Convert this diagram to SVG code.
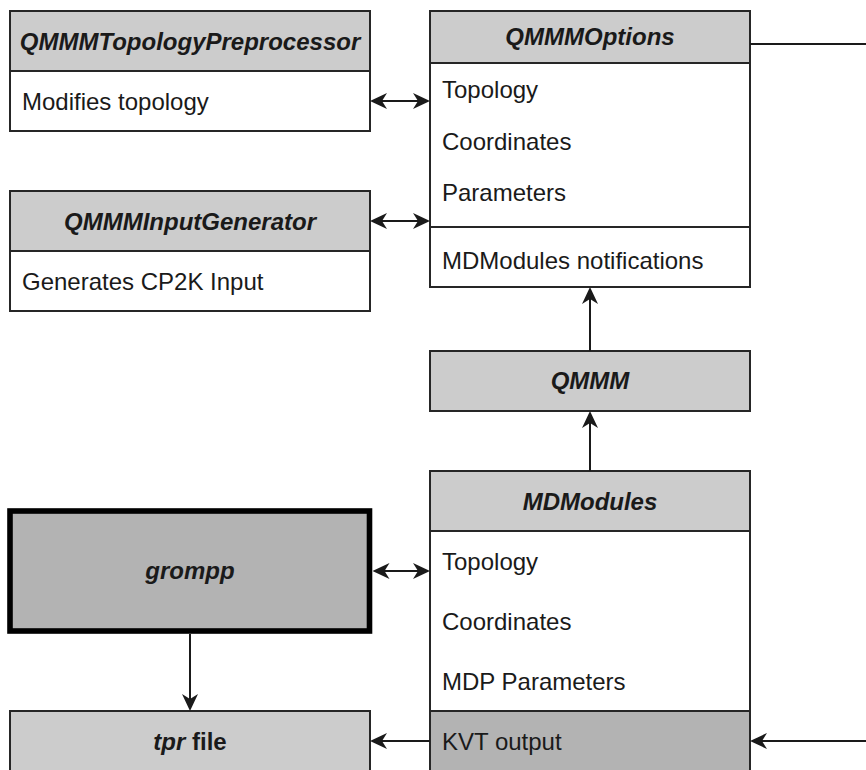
<svg xmlns="http://www.w3.org/2000/svg" width="866" height="770" viewBox="0 0 866 770">
  <style>
    text { font-family: "Liberation Sans", Arial, Helvetica, sans-serif; font-size: 24px; fill: #1a1a1a; }
    .title { font-weight: bold; font-style: italic; text-anchor: middle; }
    .head { fill: #cccccc; stroke: #262626; stroke-width: 2; }
    .body { fill: #ffffff; stroke: #262626; stroke-width: 2; }
    .dark { fill: #b3b3b3; stroke: #262626; stroke-width: 2; }
    .edge { fill: none; stroke: #1a1a1a; stroke-width: 2; }
  </style>
  <defs>
    <marker id="arrow" markerUnits="userSpaceOnUse" viewBox="0 0 17 16" markerWidth="17" markerHeight="16" refX="7" refY="8" orient="auto-start-reverse">
      <path d="M0,0 L17,8 L0,16 L5,8 Z" fill="#1a1a1a"/>
    </marker>
  </defs>

  <rect width="866" height="770" fill="#ffffff"/>

  <g id="topology-preprocessor">
    <rect class="head" x="10" y="11" width="360" height="60"/>
    <rect class="body" x="10" y="71" width="360" height="60"/>
    <text class="title" x="190" y="49.5">QMMMTopologyPreprocessor</text>
    <text x="22" y="110">Modifies topology</text>
  </g>

  <g id="input-generator">
    <rect class="head" x="10" y="191" width="360" height="60"/>
    <rect class="body" x="10" y="251" width="360" height="60"/>
    <text class="title" x="190" y="229.5">QMMMInputGenerator</text>
    <text x="22" y="290">Generates CP2K Input</text>
  </g>

  <g id="qmmm-options">
    <rect class="head" x="430" y="11" width="320" height="52"/>
    <rect class="body" x="430" y="63" width="320" height="164"/>
    <rect class="body" x="430" y="227" width="320" height="60"/>
    <text class="title" x="590" y="45">QMMMOptions</text>
    <text x="442" y="98">Topology</text>
    <text x="442" y="149.5">Coordinates</text>
    <text x="442" y="201">Parameters</text>
    <text x="442" y="268.5">MDModules notifications</text>
  </g>

  <g id="qmmm">
    <rect class="head" x="430" y="351" width="320" height="60"/>
    <text class="title" x="590" y="389">QMMM</text>
  </g>

  <g id="md-modules">
    <rect class="head" x="430" y="471" width="320" height="60"/>
    <rect class="body" x="430" y="531" width="320" height="180"/>
    <rect class="dark" x="430" y="711" width="320" height="70"/>
    <text class="title" x="590" y="510">MDModules</text>
    <text x="442" y="569.5">Topology</text>
    <text x="442" y="629.5">Coordinates</text>
    <text x="442" y="689.5">MDP Parameters</text>
    <text x="442" y="749.5">KVT output</text>
  </g>

  <g id="grompp">
    <rect x="10" y="511" width="359.5" height="120" fill="#b3b3b3" stroke="#000000" stroke-width="5.6"/>
    <text class="title" x="190" y="579">grompp</text>
  </g>

  <g id="tpr-file">
    <rect class="head" x="10" y="711" width="360" height="70"/>
    <text class="title" x="190" y="749.5"><tspan>tpr</tspan><tspan font-style="normal"> file</tspan></text>
  </g>

  <g id="connectors">
    <path class="edge" d="M380,101 L420,101" marker-start="url(#arrow)" marker-end="url(#arrow)"/>
    <path class="edge" d="M380,221 L420,221" marker-start="url(#arrow)" marker-end="url(#arrow)"/>
    <path class="edge" d="M382.5,571 L420,571" marker-start="url(#arrow)" marker-end="url(#arrow)"/>
    <path class="edge" d="M590,351 L590,297" marker-end="url(#arrow)"/>
    <path class="edge" d="M590,471 L590,421" marker-end="url(#arrow)"/>
    <path class="edge" d="M190,634 L190,701" marker-end="url(#arrow)"/>
    <path class="edge" d="M430,741 L380,741" marker-end="url(#arrow)"/>
    <path class="edge" d="M866,741 L760,741" marker-end="url(#arrow)"/>
    <path class="edge" d="M750,44 L866,44"/>
  </g>
</svg>
